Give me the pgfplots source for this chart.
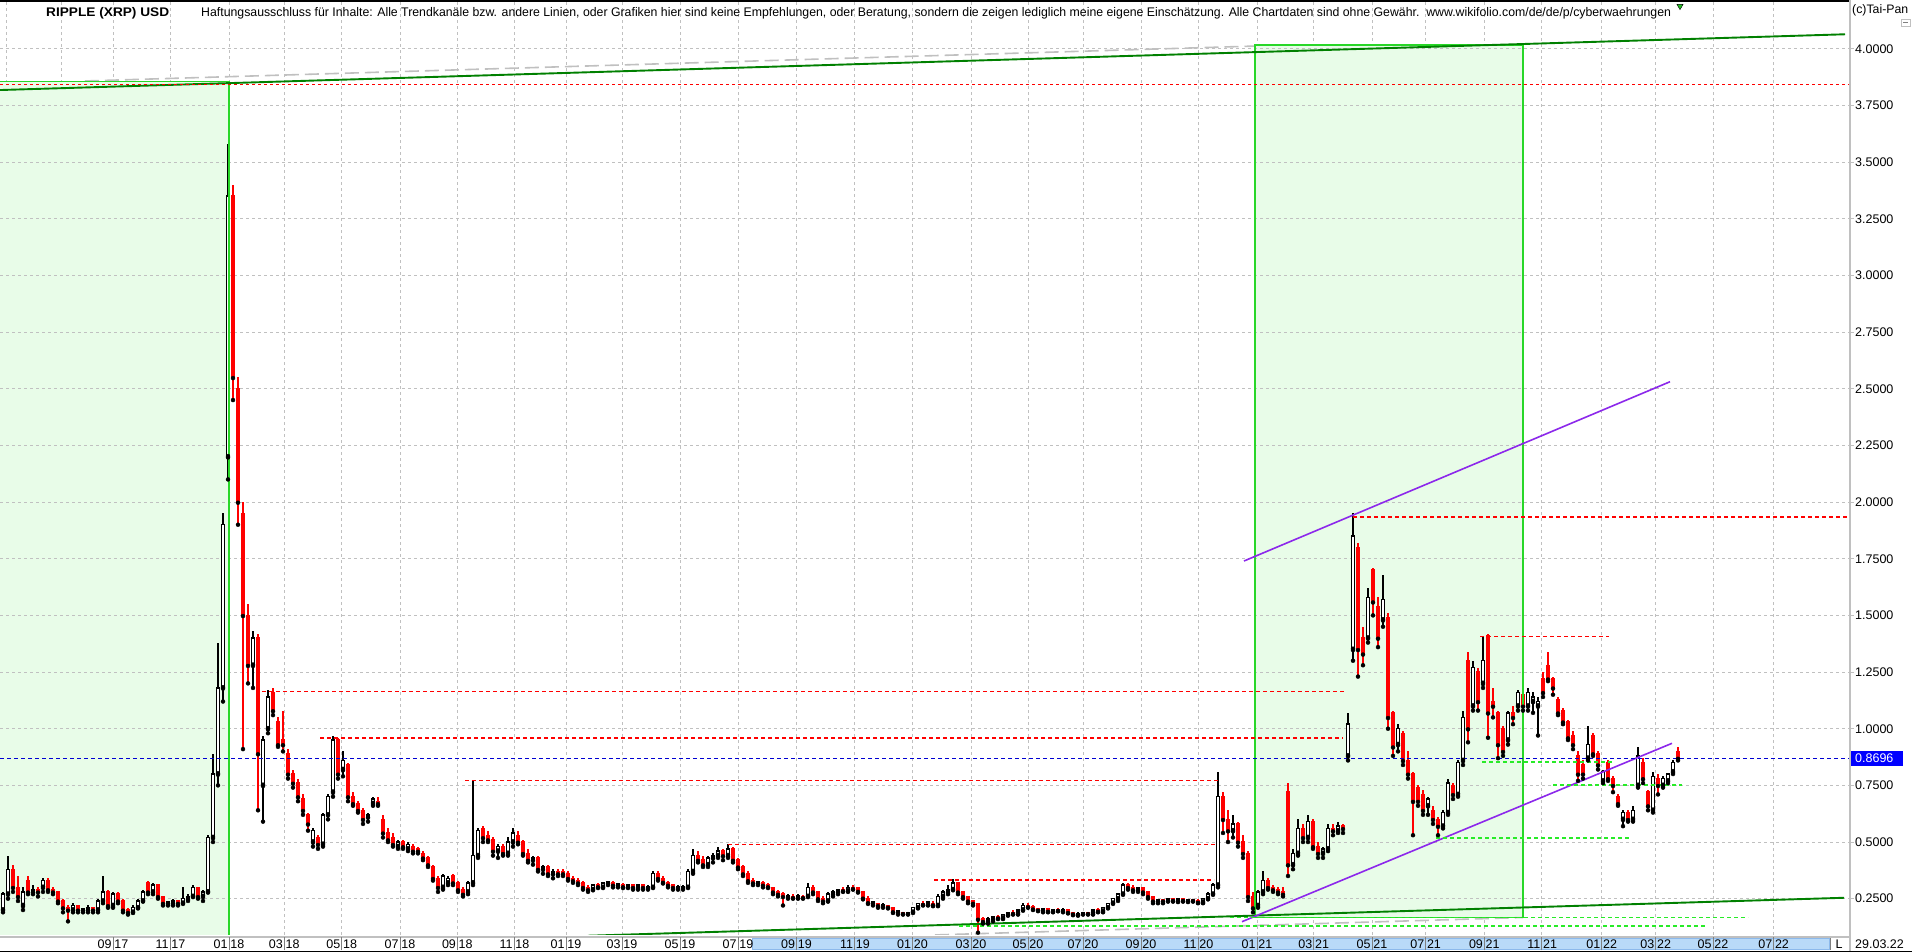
\documentclass[border=0pt]{standalone}
\usepackage{pgfplots}
\pgfplotsset{compat=1.18}
\usepackage{pgfplotstable}
\usepackage{graphicx}
\usepackage{fontspec}
\setmainfont{Liberation Sans}

\definecolor{gridgray}{RGB}{192,192,192}
\definecolor{boxfill}{RGB}{232,252,232}
\definecolor{boxedge}{RGB}{40,215,40}
\definecolor{dkgreen}{RGB}{0,128,0}
\definecolor{ltgreen}{RGB}{40,235,40}
\definecolor{violet2}{RGB}{140,40,235}
\definecolor{cred}{RGB}{255,0,0}
\definecolor{cblue}{RGB}{0,0,210}
\definecolor{barblue}{RGB}{185,218,248}
\definecolor{baredge}{RGB}{140,185,235}

% x = candle position (chart index, pixels), o h l c in USD
\pgfplotstableread{
x o h l c
3 0.20 0.28 0.19 0.27
8 0.27 0.44 0.25 0.38
13 0.38 0.40 0.28 0.30
18 0.30 0.35 0.24 0.26
23 0.22 0.30 0.20 0.28
28 0.33 0.35 0.27 0.28
33 0.28 0.31 0.27 0.29
38 0.29 0.30 0.26 0.28
43 0.30 0.34 0.28 0.33
48 0.33 0.34 0.28 0.29
53 0.29 0.30 0.27 0.28
58 0.28 0.28 0.23 0.24
63 0.24 0.25 0.19 0.21
68 0.21 0.22 0.15 0.20
73 0.20 0.23 0.19 0.22
78 0.22 0.22 0.19 0.20
83 0.20 0.21 0.19 0.205
88 0.20 0.22 0.19 0.21
93 0.21 0.21 0.19 0.20
98 0.20 0.25 0.19 0.24
103 0.24 0.35 0.23 0.28
108 0.28 0.29 0.21 0.22
113 0.22 0.28 0.21 0.27
118 0.27 0.28 0.23 0.24
123 0.24 0.25 0.19 0.20
128 0.20 0.21 0.18 0.19
133 0.19 0.22 0.19 0.21
138 0.21 0.25 0.21 0.24
143 0.24 0.29 0.24 0.28
148 0.32 0.33 0.27 0.28
153 0.28 0.32 0.27 0.31
158 0.31 0.31 0.25 0.26
163 0.26 0.26 0.22 0.23
168 0.23 0.24 0.22 0.235
173 0.23 0.25 0.22 0.24
178 0.24 0.24 0.22 0.23
183 0.23 0.30 0.23 0.25
188 0.25 0.27 0.24 0.26
193 0.26 0.31 0.26 0.30
198 0.30 0.30 0.25 0.26
203 0.26 0.29 0.24 0.28
208 0.28 0.53 0.28 0.52
213 0.52 0.89 0.50 0.80
218 0.80 1.38 0.75 1.18
223 1.18 1.95 1.12 1.90
228 2.20 3.58 2.10 3.35
233 3.35 3.40 2.45 2.55
238 2.50 2.55 1.90 2.00
243 1.95 2.00 0.91 1.50
248 1.50 1.55 1.20 1.28
253 1.28 1.43 1.18 1.40
258 1.40 1.42 0.64 0.89
263 0.75 0.97 0.59 0.95
268 1.00 1.17 0.98 1.14
273 1.16 1.18 1.06 1.08
278 1.03 1.05 0.92 0.93
283 0.95 1.08 0.90 0.93
288 0.89 0.91 0.78 0.80
293 0.80 0.82 0.74 0.76
298 0.76 0.78 0.68 0.70
303 0.69 0.71 0.62 0.64
308 0.62 0.63 0.55 0.58
313 0.50 0.56 0.48 0.55
318 0.52 0.53 0.47 0.49
323 0.49 0.63 0.48 0.62
328 0.62 0.71 0.60 0.70
333 0.72 0.97 0.70 0.95
338 0.95 0.96 0.78 0.80
343 0.82 0.90 0.79 0.86
348 0.84 0.85 0.68 0.70
353 0.70 0.72 0.66 0.67
358 0.67 0.68 0.63 0.64
363 0.64 0.65 0.58 0.60
368 0.61 0.63 0.59 0.62
373 0.67 0.70 0.66 0.69
378 0.68 0.70 0.66 0.67
383 0.60 0.62 0.52 0.54
388 0.54 0.56 0.50 0.51
393 0.52 0.54 0.48 0.49
398 0.48 0.51 0.47 0.50
403 0.50 0.51 0.47 0.48
408 0.47 0.50 0.46 0.49
413 0.48 0.49 0.45 0.46
418 0.47 0.48 0.45 0.46
423 0.45 0.46 0.42 0.43
428 0.43 0.44 0.39 0.40
433 0.39 0.40 0.33 0.34
438 0.34 0.35 0.28 0.30
443 0.30 0.36 0.29 0.35
448 0.32 0.35 0.31 0.34
453 0.35 0.36 0.31 0.32
458 0.32 0.33 0.28 0.29
463 0.29 0.30 0.26 0.27
468 0.28 0.33 0.27 0.32
473 0.32 0.77 0.31 0.44
478 0.44 0.56 0.43 0.55
483 0.56 0.57 0.50 0.52
488 0.53 0.55 0.50 0.51
493 0.51 0.52 0.44 0.46
498 0.46 0.49 0.43 0.48
503 0.48 0.49 0.44 0.45
508 0.45 0.52 0.44 0.50
513 0.50 0.56 0.48 0.54
518 0.53 0.55 0.49 0.50
523 0.50 0.51 0.44 0.45
528 0.45 0.47 0.41 0.42
533 0.42 0.44 0.40 0.43
538 0.43 0.44 0.37 0.38
543 0.38 0.40 0.36 0.39
548 0.39 0.40 0.35 0.36
553 0.36 0.38 0.34 0.37
558 0.37 0.38 0.35 0.36
563 0.37 0.38 0.35 0.36
568 0.36 0.37 0.33 0.34
573 0.34 0.35 0.32 0.33
578 0.33 0.34 0.31 0.32
583 0.32 0.33 0.29 0.30
588 0.30 0.31 0.28 0.29
593 0.29 0.31 0.29 0.31
598 0.31 0.32 0.30 0.30
603 0.30 0.32 0.30 0.32
608 0.32 0.33 0.31 0.325
613 0.32 0.33 0.30 0.31
618 0.31 0.32 0.30 0.315
623 0.31 0.32 0.30 0.30
628 0.30 0.31 0.30 0.31
633 0.31 0.31 0.29 0.30
638 0.30 0.31 0.29 0.31
643 0.31 0.31 0.29 0.30
648 0.30 0.31 0.29 0.30
653 0.30 0.37 0.30 0.36
658 0.36 0.37 0.33 0.34
663 0.34 0.35 0.32 0.32
668 0.32 0.33 0.30 0.31
673 0.31 0.31 0.29 0.30
678 0.30 0.31 0.29 0.305
683 0.30 0.31 0.29 0.30
688 0.30 0.38 0.30 0.37
693 0.37 0.47 0.36 0.44
698 0.44 0.46 0.41 0.42
703 0.42 0.44 0.39 0.40
708 0.40 0.44 0.39 0.43
713 0.43 0.45 0.41 0.44
718 0.44 0.48 0.43 0.46
723 0.46 0.47 0.42 0.44
728 0.44 0.49 0.43 0.47
733 0.47 0.48 0.41 0.42
738 0.42 0.43 0.38 0.39
743 0.39 0.40 0.35 0.36
748 0.36 0.37 0.32 0.33
753 0.33 0.34 0.31 0.32
758 0.32 0.33 0.31 0.325
763 0.32 0.33 0.30 0.31
768 0.31 0.32 0.30 0.30
773 0.30 0.30 0.27 0.28
778 0.28 0.29 0.26 0.27
783 0.27 0.28 0.22 0.26
788 0.26 0.27 0.25 0.265
793 0.26 0.27 0.25 0.255
798 0.255 0.27 0.25 0.265
803 0.26 0.265 0.25 0.255
808 0.26 0.32 0.26 0.30
813 0.30 0.31 0.27 0.28
818 0.28 0.28 0.24 0.25
823 0.25 0.26 0.23 0.24
828 0.24 0.28 0.24 0.27
833 0.27 0.29 0.26 0.28
838 0.28 0.29 0.27 0.29
843 0.29 0.30 0.28 0.285
848 0.285 0.31 0.28 0.30
853 0.30 0.31 0.29 0.295
858 0.30 0.30 0.28 0.28
863 0.28 0.28 0.25 0.25
868 0.25 0.26 0.23 0.23
873 0.23 0.24 0.22 0.235
878 0.23 0.23 0.21 0.22
883 0.22 0.23 0.21 0.225
888 0.22 0.22 0.21 0.21
893 0.21 0.21 0.19 0.19
898 0.19 0.20 0.18 0.195
903 0.19 0.19 0.18 0.185
908 0.185 0.19 0.18 0.19
913 0.19 0.21 0.19 0.21
918 0.21 0.23 0.21 0.23
923 0.23 0.24 0.22 0.225
928 0.225 0.24 0.22 0.235
933 0.23 0.24 0.22 0.22
938 0.22 0.27 0.22 0.26
943 0.26 0.29 0.25 0.28
948 0.28 0.31 0.27 0.29
953 0.29 0.335 0.29 0.32
958 0.32 0.32 0.27 0.28
963 0.28 0.28 0.25 0.26
968 0.26 0.26 0.23 0.24
973 0.24 0.24 0.22 0.23
978 0.23 0.23 0.10 0.16
983 0.16 0.17 0.14 0.15
988 0.15 0.17 0.14 0.16
993 0.16 0.17 0.15 0.17
998 0.17 0.18 0.16 0.165
1003 0.165 0.18 0.16 0.18
1008 0.18 0.19 0.175 0.19
1013 0.19 0.20 0.18 0.185
1018 0.185 0.20 0.18 0.20
1023 0.20 0.23 0.20 0.22
1028 0.22 0.23 0.21 0.215
1033 0.215 0.22 0.20 0.205
1038 0.205 0.21 0.195 0.20
1043 0.20 0.21 0.19 0.205
1048 0.205 0.21 0.19 0.195
1053 0.195 0.205 0.19 0.20
1058 0.20 0.21 0.195 0.198
1063 0.198 0.21 0.19 0.20
1068 0.20 0.20 0.185 0.19
1073 0.19 0.19 0.18 0.18
1078 0.18 0.19 0.175 0.185
1083 0.185 0.19 0.18 0.19
1088 0.19 0.19 0.18 0.185
1093 0.185 0.20 0.18 0.20
1098 0.20 0.21 0.19 0.195
1103 0.195 0.21 0.19 0.21
1108 0.21 0.23 0.21 0.23
1113 0.23 0.25 0.23 0.25
1118 0.25 0.27 0.24 0.27
1123 0.27 0.32 0.27 0.31
1128 0.31 0.32 0.29 0.30
1133 0.30 0.31 0.28 0.29
1138 0.29 0.30 0.28 0.30
1143 0.30 0.30 0.27 0.28
1148 0.28 0.28 0.25 0.26
1153 0.26 0.26 0.23 0.24
1158 0.24 0.25 0.23 0.245
1163 0.245 0.25 0.23 0.24
1168 0.24 0.25 0.24 0.25
1173 0.25 0.25 0.24 0.24
1178 0.24 0.25 0.235 0.25
1183 0.25 0.255 0.24 0.24
1188 0.24 0.25 0.235 0.245
1193 0.245 0.25 0.24 0.24
1198 0.24 0.25 0.23 0.235
1203 0.235 0.25 0.23 0.25
1208 0.25 0.28 0.25 0.27
1213 0.27 0.32 0.27 0.31
1218 0.31 0.81 0.30 0.70
1223 0.70 0.72 0.54 0.60
1228 0.60 0.64 0.50 0.55
1233 0.55 0.62 0.52 0.58
1238 0.58 0.59 0.48 0.50
1243 0.50 0.53 0.43 0.45
1248 0.45 0.46 0.24 0.26
1253 0.26 0.28 0.19 0.21
1258 0.22 0.29 0.21 0.28
1263 0.28 0.37 0.27 0.33
1268 0.33 0.34 0.29 0.30
1273 0.30 0.31 0.28 0.29
1278 0.29 0.30 0.27 0.28
1283 0.28 0.30 0.26 0.27
1288 0.72 0.76 0.35 0.40
1293 0.40 0.47 0.38 0.45
1298 0.45 0.60 0.44 0.56
1303 0.56 0.58 0.50 0.52
1308 0.52 0.62 0.50 0.59
1313 0.59 0.60 0.47 0.48
1318 0.48 0.50 0.43 0.45
1323 0.45 0.48 0.43 0.47
1328 0.47 0.58 0.46 0.56
1333 0.56 0.58 0.53 0.55
1338 0.55 0.59 0.54 0.57
1343 0.57 0.58 0.54 0.56
1348 0.88 1.07 0.86 1.02
1353 1.35 1.95 1.30 1.85
1358 1.80 1.82 1.23 1.35
1363 1.40 1.45 1.28 1.33
1368 1.40 1.62 1.38 1.58
1373 1.70 1.71 1.50 1.56
1378 1.54 1.58 1.36 1.40
1383 1.48 1.68 1.45 1.57
1388 1.49 1.51 1.00 1.05
1393 1.07 1.08 0.88 0.92
1398 0.93 1.02 0.90 1.00
1403 0.98 0.99 0.84 0.86
1408 0.86 0.90 0.78 0.80
1413 0.80 0.81 0.53 0.68
1418 0.74 0.75 0.66 0.68
1423 0.71 0.73 0.62 0.64
1428 0.66 0.70 0.62 0.69
1433 0.64 0.66 0.58 0.60
1438 0.60 0.61 0.53 0.57
1443 0.57 0.64 0.56 0.63
1448 0.63 0.78 0.62 0.76
1453 0.75 0.76 0.69 0.71
1458 0.71 0.86 0.70 0.85
1463 0.86 1.08 0.84 1.05
1468 1.30 1.34 0.94 1.00
1473 1.10 1.30 1.08 1.27
1478 1.25 1.27 1.08 1.12
1483 1.20 1.41 1.18 1.30
1488 1.41 1.42 0.96 1.07
1493 1.12 1.18 1.05 1.10
1498 1.07 1.08 0.87 0.93
1503 1.00 1.01 0.88 0.90
1508 0.95 1.08 0.93 1.07
1513 1.07 1.10 1.02 1.05
1518 1.10 1.17 1.08 1.16
1523 1.15 1.18 1.08 1.10
1528 1.10 1.18 1.08 1.16
1533 1.12 1.16 1.07 1.14
1538 1.10 1.14 0.97 1.12
1543 1.22 1.25 1.14 1.16
1548 1.28 1.34 1.21 1.22
1553 1.22 1.23 1.15 1.18
1558 1.13 1.14 1.06 1.07
1563 1.08 1.09 1.02 1.03
1568 1.03 1.04 0.95 0.96
1573 0.97 0.99 0.91 0.93
1578 0.88 0.90 0.77 0.80
1583 0.84 0.86 0.78 0.80
1588 0.87 1.01 0.86 0.93
1593 0.97 0.98 0.88 0.89
1598 0.89 0.90 0.82 0.84
1603 0.77 0.82 0.76 0.81
1608 0.85 0.86 0.77 0.78
1613 0.78 0.79 0.72 0.75
1618 0.70 0.71 0.66 0.67
1623 0.60 0.64 0.57 0.63
1628 0.63 0.64 0.59 0.60
1633 0.60 0.66 0.59 0.64
1638 0.75 0.92 0.74 0.88
1643 0.85 0.87 0.76 0.78
1648 0.72 0.73 0.64 0.66
1653 0.64 0.81 0.63 0.79
1658 0.78 0.80 0.71 0.75
1663 0.75 0.79 0.74 0.78
1668 0.77 0.80 0.76 0.80
1673 0.81 0.86 0.80 0.85
1678 0.90 0.92 0.86 0.87
}\candles

\tikzset{
  gridl/.style={gridgray, line width=1pt, dash pattern=on 3pt off 3pt},
  reddash/.style={cred, line width=1.5pt, dash pattern=on 4pt off 3pt},
  grndash/.style={ltgreen, line width=1.5pt, dash pattern=on 4pt off 3pt},
  lbl/.style={inner sep=0pt, font=\fontsize{12.5pt}{14pt}\selectfont},
}

\begin{document}
\begin{tikzpicture}[x=1pt,y=1pt]
\useasboundingbox (0,0) rectangle (1912,952);
\fill[white] (0,0) rectangle (1912,952);
\begin{axis}[
  at={(0pt,17pt)}, anchor=south west,
  scale only axis, width=1849pt, height=933pt,
  xmin=0, xmax=1849, ymin=0.0898, ymax=4.2065,
  hide axis, clip=true,
]
% vertical grid
\pgfplotsinvokeforeach{6,61,113,170,229,284.3,341.7,400,457.3,514,566,622,680,738,796.5,854.5,912.5,971,1028,1083,1141,1198,1257,1313.7,1372,1425.6,1484.3,1541.7,1601.7,1655.7,1713,1773.6}{
  \draw[gridl] (axis cs:#1,0.0898) -- (axis cs:#1,4.2065);
}
% green boxes
\fill[boxfill] (axis cs:0,3.855) rectangle (axis cs:229,0.05);
\fill[boxfill] (axis cs:1255,4.017) rectangle (axis cs:1523,0.168);
% horizontal grid
\pgfplotsinvokeforeach{0.25,0.5,0.75,1.0,1.25,1.5,1.75,2.0,2.25,2.5,2.75,3.0,3.25,3.5,3.75,4.0}{
  \draw[gridl] (axis cs:0,#1) -- (axis cs:1849,#1);
}
% helper lines (grey, long dashes)
\addplot[gridgray, line width=1.6pt, dash pattern=on 14pt off 6pt] coordinates {(935,0.09) (1523,0.167)};
\addplot[gridgray, line width=1.6pt, dash pattern=on 14pt off 6pt] coordinates {(85,3.858) (1255,4.012)};

% candlesticks: down (red)
\addplot[only marks, mark=none, error bars/.cd, y dir=plus, y explicit, error mark=none,
  error bar style={cred, solid, line width=1.3pt}]
  table[x=x, y expr={\thisrow{c}<\thisrow{o} ? \thisrow{l} : nan},
        y error plus expr={\thisrow{h}-\thisrow{l}}] {\candles};
\addplot[only marks, mark=none, error bars/.cd, y dir=plus, y explicit, error mark=none,
  error bar style={cred, solid, line width=4.4pt}]
  table[x=x, y expr={\thisrow{c}<\thisrow{o} ? \thisrow{c}-0.003 : nan},
        y error plus expr={max(\thisrow{o}-\thisrow{c},0.005)+0.006}] {\candles};
% candlesticks: up (hollow black)
\addplot[only marks, mark=none, error bars/.cd, y dir=plus, y explicit, error mark=none,
  error bar style={black, solid, line width=1.3pt}]
  table[x=x, y expr={\thisrow{c}<\thisrow{o} ? nan : \thisrow{l}},
        y error plus expr={\thisrow{h}-\thisrow{l}}] {\candles};
\addplot[only marks, mark=none, error bars/.cd, y dir=plus, y explicit, error mark=none,
  error bar style={black, solid, line width=4.2pt}]
  table[x=x, y expr={\thisrow{c}<\thisrow{o} ? nan : \thisrow{o}-0.003},
        y error plus expr={max(\thisrow{c}-\thisrow{o},0.005)+0.006}] {\candles};
\addplot[only marks, mark=none, error bars/.cd, y dir=plus, y explicit, error mark=none,
  error bar style={white, solid, line width=1.8pt}]
  table[x=x, y expr={\thisrow{c}-\thisrow{o}>0.012 ? \thisrow{o}+0.003 : nan},
        y error plus expr={\thisrow{c}-\thisrow{o}-0.006}] {\candles};

% box edges
\addplot[boxedge, line width=1.4pt] coordinates {(0,3.855) (229,3.855) (229,0.05)};
\addplot[boxedge, line width=1.4pt] coordinates {(1255,0.168) (1255,4.017) (1523,4.017) (1523,0.168) (1255,0.168)};

% trend lines
\addplot[dkgreen, line width=1.9pt] coordinates {(0,3.818) (1845,4.064)};
\addplot[dkgreen, line width=1.9pt] coordinates {(588,0.0865) (1844,0.254)};
\addplot[violet2, line width=1.6pt] coordinates {(1244,1.74) (1670,2.531)};
\addplot[violet2, line width=1.6pt] coordinates {(1242,0.1485) (1672,0.9356)};

% horizontal markers
\addplot[cred, line width=1.5pt, dash pattern=on 3pt off 3pt] coordinates {(0,3.843) (1849,3.843)};
\addplot[reddash] coordinates {(1353,1.934) (1849,1.934)};
\addplot[reddash] coordinates {(1480,1.407) (1609,1.407)};
\addplot[reddash] coordinates {(262,1.165) (1345,1.165)};
\addplot[reddash] coordinates {(320,0.960) (1343,0.960)};
\addplot[reddash] coordinates {(465,0.772) (1218,0.772)};
\addplot[reddash] coordinates {(728,0.490) (1215,0.490)};
\addplot[reddash] coordinates {(934,0.3325) (1214,0.3325)};
\addplot[grndash] coordinates {(1482,0.853) (1612,0.853)};
\addplot[grndash] coordinates {(1553,0.752) (1682,0.752)};
\addplot[grndash] coordinates {(1436,0.518) (1630,0.518)};
\addplot[grndash] coordinates {(959,0.13) (1707,0.13)};
\addplot[grndash] coordinates {(1230,0.168) (1748,0.168)};
\addplot[cblue, line width=1.5pt, dash pattern=on 4pt off 3pt] coordinates {(0,0.8696) (1849,0.8696)};
\addplot[only marks, mark=triangle*, mark size=3.5pt, mark options={rotate=180, fill=ltgreen!80!black, draw=none}] coordinates {(1680,4.188)};
\end{axis}

% frame
\draw[black, line width=2.5pt] (0,950.8) -- (1849,950.8);
\draw[gridgray, line width=1.5pt] (0,15) -- (1849,15);
\draw[gridgray, line width=2pt] (1850,0) -- (1850,952);
\draw[black, line width=1.5pt] (0,0.7) -- (1912,0.7);

% x label bar
\fill[barblue, draw=baredge, line width=0.8pt] (752,2.6) rectangle (1829,13.4);
\draw[gray, line width=0.8pt] (1830,2) -- (1830,14);
\foreach \t/\m/\yy in {113/09/17,170/11/17,229/01/18,284.3/03/18,341.7/05/18,400/07/18,457.3/09/18,514/11/18,566/01/19,622/03/19,680/05/19,738/07/19,796.5/09/19,854.5/11/19,912.5/01/20,971/03/20,1028/05/20,1083/07/20,1141/09/20,1198/11/20,1257/01/21,1313.7/03/21,1372/05/21,1425.6/07/21,1484.3/09/21,1541.7/11/21,1601.7/01/22,1655.7/03/22,1713/05/22,1773.6/07/22}{
  \draw[gray, line width=0.9pt] (\t,1.5) -- (\t,15);
  \node[lbl, anchor=base east] at ({\t-1.2},3.6) {\m};
  \node[lbl, anchor=base west] at ({\t+1.2},3.6) {\yy};
}
\node[lbl, anchor=base] at (1839,3.6) {L};
\node[lbl, anchor=base west] at (1855,3.6) {29.03.22};

% y labels
\foreach \v/\Y in {0.2500/53.3,0.5000/109.96,0.7500/166.62,1.0000/223.28,1.2500/279.94,1.5000/336.6,1.7500/393.26,2.0000/449.92,2.2500/506.58,2.5000/563.24,2.7500/619.9,3.0000/676.56,3.2500/733.22,3.5000/789.88,3.7500/846.54,4.0000/903.2}{
  \draw[gridgray, line width=1pt] (1850,\Y) -- (1854,\Y);
  \node[lbl, anchor=west] at (1855,\Y) {\v};
}
\fill[blue] (1851,186) rectangle (1903,201);
\node[lbl, anchor=west, text=white] at (1855,193.7) {0.8696};

% texts
\node[inner sep=0pt, anchor=base west] at (46,935) {\resizebox{123pt}{\height}{\fontsize{12.5pt}{15pt}\selectfont\bfseries RIPPLE (XRP) USD}};
\node[inner sep=0pt, anchor=base west] at (201,935) {\resizebox{1470pt}{\height}{\fontsize{12.5pt}{15pt}\selectfont Haftungsausschluss für Inhalte: Alle Trendkanäle bzw. andere Linien, oder Grafiken hier sind keine Empfehlungen, oder Beratung, sondern die zeigen lediglich meine eigene Einschätzung. Alle Chartdaten sind ohne Gewähr.\ \ www.wikifolio.com/de/de/p/cyberwaehrungen}};
\node[inner sep=0pt, anchor=base west] at (1852,938) {\fontsize{12.3pt}{14pt}\selectfont (c)Tai-Pan};
\draw[gridgray, line width=0.8pt] (1901,926) rectangle (1910,933);
\draw[gray, line width=0.8pt] (1903,929.5) -- (1908,929.5);
\end{tikzpicture}
\end{document}
